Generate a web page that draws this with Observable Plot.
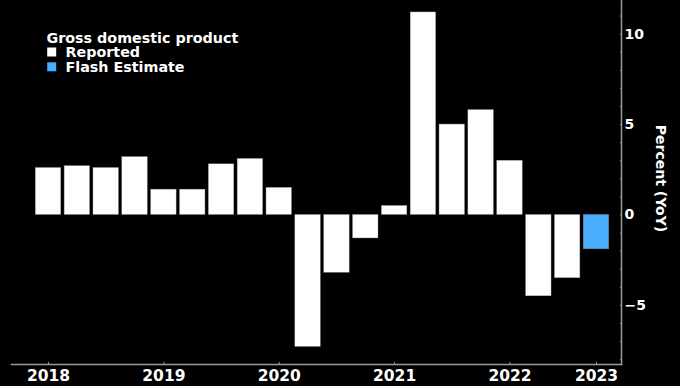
<!DOCTYPE html>
<html>
<head>
<meta charset="utf-8">
<script src="https://cdn.jsdelivr.net/npm/d3@7"></script>
<script src="https://cdn.jsdelivr.net/npm/@observablehq/plot@0.6"></script>
<style>
  html, body { margin: 0; padding: 0; background: #000; }
  #chart svg { display: block; }
</style>
</head>
<body>
<div id="chart"></div>
<script>
const quarters = [
  "2018 Q1","2018 Q2","2018 Q3","2018 Q4",
  "2019 Q1","2019 Q2","2019 Q3","2019 Q4",
  "2020 Q1","2020 Q2","2020 Q3","2020 Q4",
  "2021 Q1","2021 Q2","2021 Q3","2021 Q4",
  "2022 Q1","2022 Q2","2022 Q3","2022 Q4"
];
const values = [2.6, 2.7, 2.6, 3.2, 1.4, 1.4, 2.8, 3.1, 1.5, -7.3, -3.2, -1.3, 0.5, 11.2, 5.0, 5.8, 3.0, -4.5, -3.5, -1.9];
const status = [
  "Reported","Reported","Reported","Reported","Reported","Reported","Reported","Reported",
  "Reported","Reported","Reported","Reported","Reported","Reported","Reported","Reported",
  "Reported","Reported","Reported","Flash Estimate"
];
const seriesNames = ["Reported", "Flash Estimate"];
const seriesColors = ["#ffffff", "#4aacff"];
const tickQuarters = ["2018 Q1","2019 Q1","2020 Q1","2021 Q1","2022 Q1","2022 Q4"];
const tickLabels = ["2018","2019","2020","2021","2022","2023"];
const yTicks = [-5, 0, 5, 10];
const yMinorTicks = [-8,-7,-6,-5,-4,-3,-2,-1,0,1,2,3,4,5,6,7,8,9,10,11];
const legendTitle = "Gross domestic product";
const yLabel = "Percent (YoY)";

const data = quarters.map((q, i) => ({quarter: q, value: values[i], status: status[i]}));
const tickMap = new Map(tickQuarters.map((q, i) => [q, tickLabels[i]]));

const font = "DejaVu Sans, Verdana, sans-serif";
const axisColor = "#999999";

const legendMarks = seriesNames.flatMap((name, i) => [
  Plot.dot([name], {frameAnchor: "top-left", dx: 40.2, dy: 51.5 + i * 14.8, symbol: "square", r: 5.08, fill: seriesColors[i], stroke: null}),
  Plot.text([name], {frameAnchor: "top-left", textAnchor: "start", lineAnchor: "bottom", dx: 54, dy: 56.5 + i * 14.8, fontSize: 14.3, fill: "#fff", fontWeight: "bold"})
]);

const chart = Plot.plot({
  width: 680,
  height: 386,
  marginTop: 0,
  marginBottom: 22,
  marginLeft: 11,
  marginRight: 59,
  style: {background: "#000", color: "#fff", fontFamily: font, fontWeight: "bold", fontSize: "14px"},
  x: {type: "band", domain: quarters, paddingInner: 0.116, paddingOuter: 0.058, round: false, insetLeft: 22.6, insetRight: 10.6, label: null},
  y: {domain: [-8.27, 11.86], label: null},
  color: {domain: seriesNames, range: seriesColors},
  marks: [
    Plot.barY(data, {x: "quarter", y: "value", fill: "status", stroke: "#888", strokeWidth: 0.4}),
    Plot.frame({anchor: "bottom", stroke: axisColor, strokeWidth: 1.5}),
    Plot.frame({anchor: "right", stroke: axisColor, strokeWidth: 1.5}),
    Plot.axisX({ticks: tickQuarters, text: null, tickSize: 2, dy: -2, stroke: axisColor, label: null}),
    Plot.axisX({ticks: tickQuarters, tickFormat: d => tickMap.get(d), tickSize: 0, tickPadding: 5, fontSize: 15.5, fill: "#fff", label: null}),
    Plot.axisY({anchor: "right", ticks: yMinorTicks, text: null, tickSize: 2, dx: -2, stroke: axisColor, label: null}),
    Plot.axisY({anchor: "right", ticks: yTicks, tickSize: 0, tickPadding: 3, fontSize: 14, fill: "#fff", label: null, tickFormat: d => d < 0 ? "\u2212" + Math.abs(d) : String(d)}),
    Plot.text([yLabel], {frameAnchor: "right", textAnchor: "middle", dx: 39, dy: -4, rotate: 90, fontSize: 14, fill: "#fff", fontWeight: "bold"}),
    Plot.text([legendTitle], {frameAnchor: "top-left", textAnchor: "start", lineAnchor: "bottom", dx: 35, dy: 42, fontSize: 14.3, fill: "#fff", fontWeight: "bold"}),
    ...legendMarks
  ]
});
document.getElementById("chart").appendChild(chart);
</script>
</body>
</html>
